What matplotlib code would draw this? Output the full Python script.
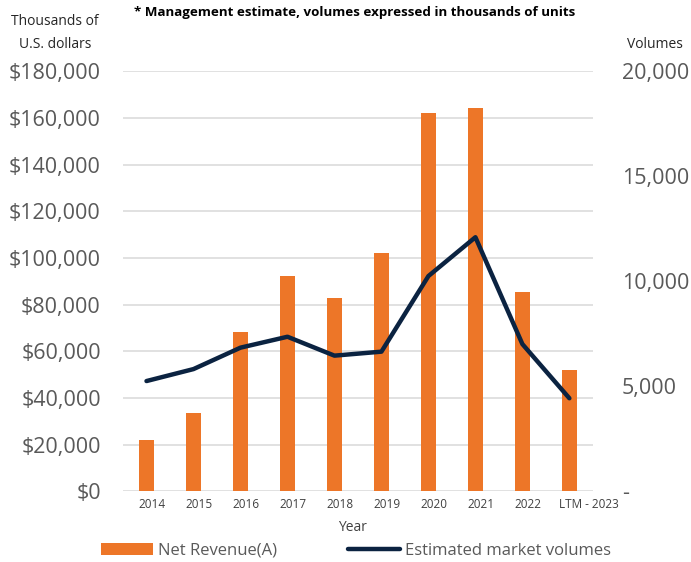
import matplotlib

matplotlib.use("Agg")
import matplotlib.pyplot as plt
from matplotlib.ticker import FuncFormatter, MultipleLocator
from matplotlib.transforms import ScaledTranslation
from matplotlib.patches import Patch
from matplotlib.lines import Line2D

plt.rcParams["font.family"] = ["Open Sans", "DejaVu Sans"]

years = ["2014", "2015", "2016", "2017", "2018", "2019", "2020", "2021", "2022", "LTM - 2023"]
net_revenue = [22000, 33400, 68100, 92300, 82700, 102000, 162000, 164300, 85400, 52100]
market_volumes = [5250, 5820, 6840, 7360, 6460, 6650, 10250, 12100, 7010, 4430]

ORANGE = "#ED7628"
NAVY = "#0B2341"
GRAY_TEXT = "#595959"
GRID = "#D9D9D9"

fig = plt.figure(figsize=(6.91, 5.62), dpi=100)
ax = fig.add_axes([0.178, 0.1258, 0.680, 0.7473])
ax2 = ax.twinx()

x = list(range(len(years)))
ax.bar(x, net_revenue, width=0.31, color=ORANGE, zorder=2)
ax2.plot(x, market_volumes, color=NAVY, linewidth=3.2, solid_joinstyle="round",
         solid_capstyle="round", zorder=3)

ax.set_xlim(-0.5, 9.5)
ax.set_ylim(0, 180000)
ax2.set_ylim(0, 20000)
ax.yaxis.set_major_locator(MultipleLocator(20000))
ax2.yaxis.set_major_locator(MultipleLocator(5000))

ax.yaxis.set_major_formatter(FuncFormatter(lambda v, p: f"${v:,.0f}"))
ax2.yaxis.set_major_formatter(
    FuncFormatter(lambda v, p: "-" if v == 0 else f"{v:,.0f}"))

ax.grid(axis="y", color=GRID, linewidth=1.1, zorder=0)
ax.set_axisbelow(True)
for a in (ax, ax2):
    for s in a.spines.values():
        s.set_visible(False)
    a.tick_params(length=0)

ax.set_xticks(x)
ax.set_xticklabels(years, fontsize=8.5, color="#404040")
ax.tick_params(axis="x", pad=5)
# category labels sit a little right of their bars
for lbl in ax.get_xticklabels():
    dx = 19 if lbl.get_text().startswith("LTM") else 6
    lbl.set_transform(lbl.get_transform() + ScaledTranslation(dx / 100, 0, fig.dpi_scale_trans))

ax.tick_params(axis="y", labelsize=15.5, labelcolor=GRAY_TEXT, pad=16)
ax2.tick_params(axis="y", labelsize=15.5, labelcolor=GRAY_TEXT, pad=21)
for lbl in ax2.get_yticklabels():
    lbl.set_horizontalalignment("left")

ax.set_xlabel("Year", fontsize=10, color="#404040")
ax.xaxis.set_label_coords(0.489, -0.068)

fig.text(0.513, 0.977, "* Management estimate, volumes expressed in thousands of units",
         ha="center", va="center", fontsize=9.6, fontweight="bold", color="black")
fig.text(0.080, 0.961, "Thousands of", ha="center", va="center", fontsize=10, color="#262626")
fig.text(0.080, 0.920, "U.S. dollars", ha="center", va="center", fontsize=10, color="#262626")
fig.text(0.948, 0.920, "Volumes", ha="center", va="center", fontsize=10, color="#262626")

handles = [Patch(facecolor=ORANGE, edgecolor="none"),
           Line2D([0], [0], color=NAVY, linewidth=3.2, solid_capstyle="round")]
fig.legend(handles, ["Net Revenue(A)", "Estimated market volumes"],
           loc="center left", bbox_to_anchor=(0.146, 0.0196), ncol=2, frameon=False,
           fontsize=12, labelcolor=GRAY_TEXT, handlelength=3.1, handleheight=0.7,
           handletextpad=0.3, columnspacing=4.3, borderpad=0, borderaxespad=0)

fig.savefig("out.png", dpi=100)
